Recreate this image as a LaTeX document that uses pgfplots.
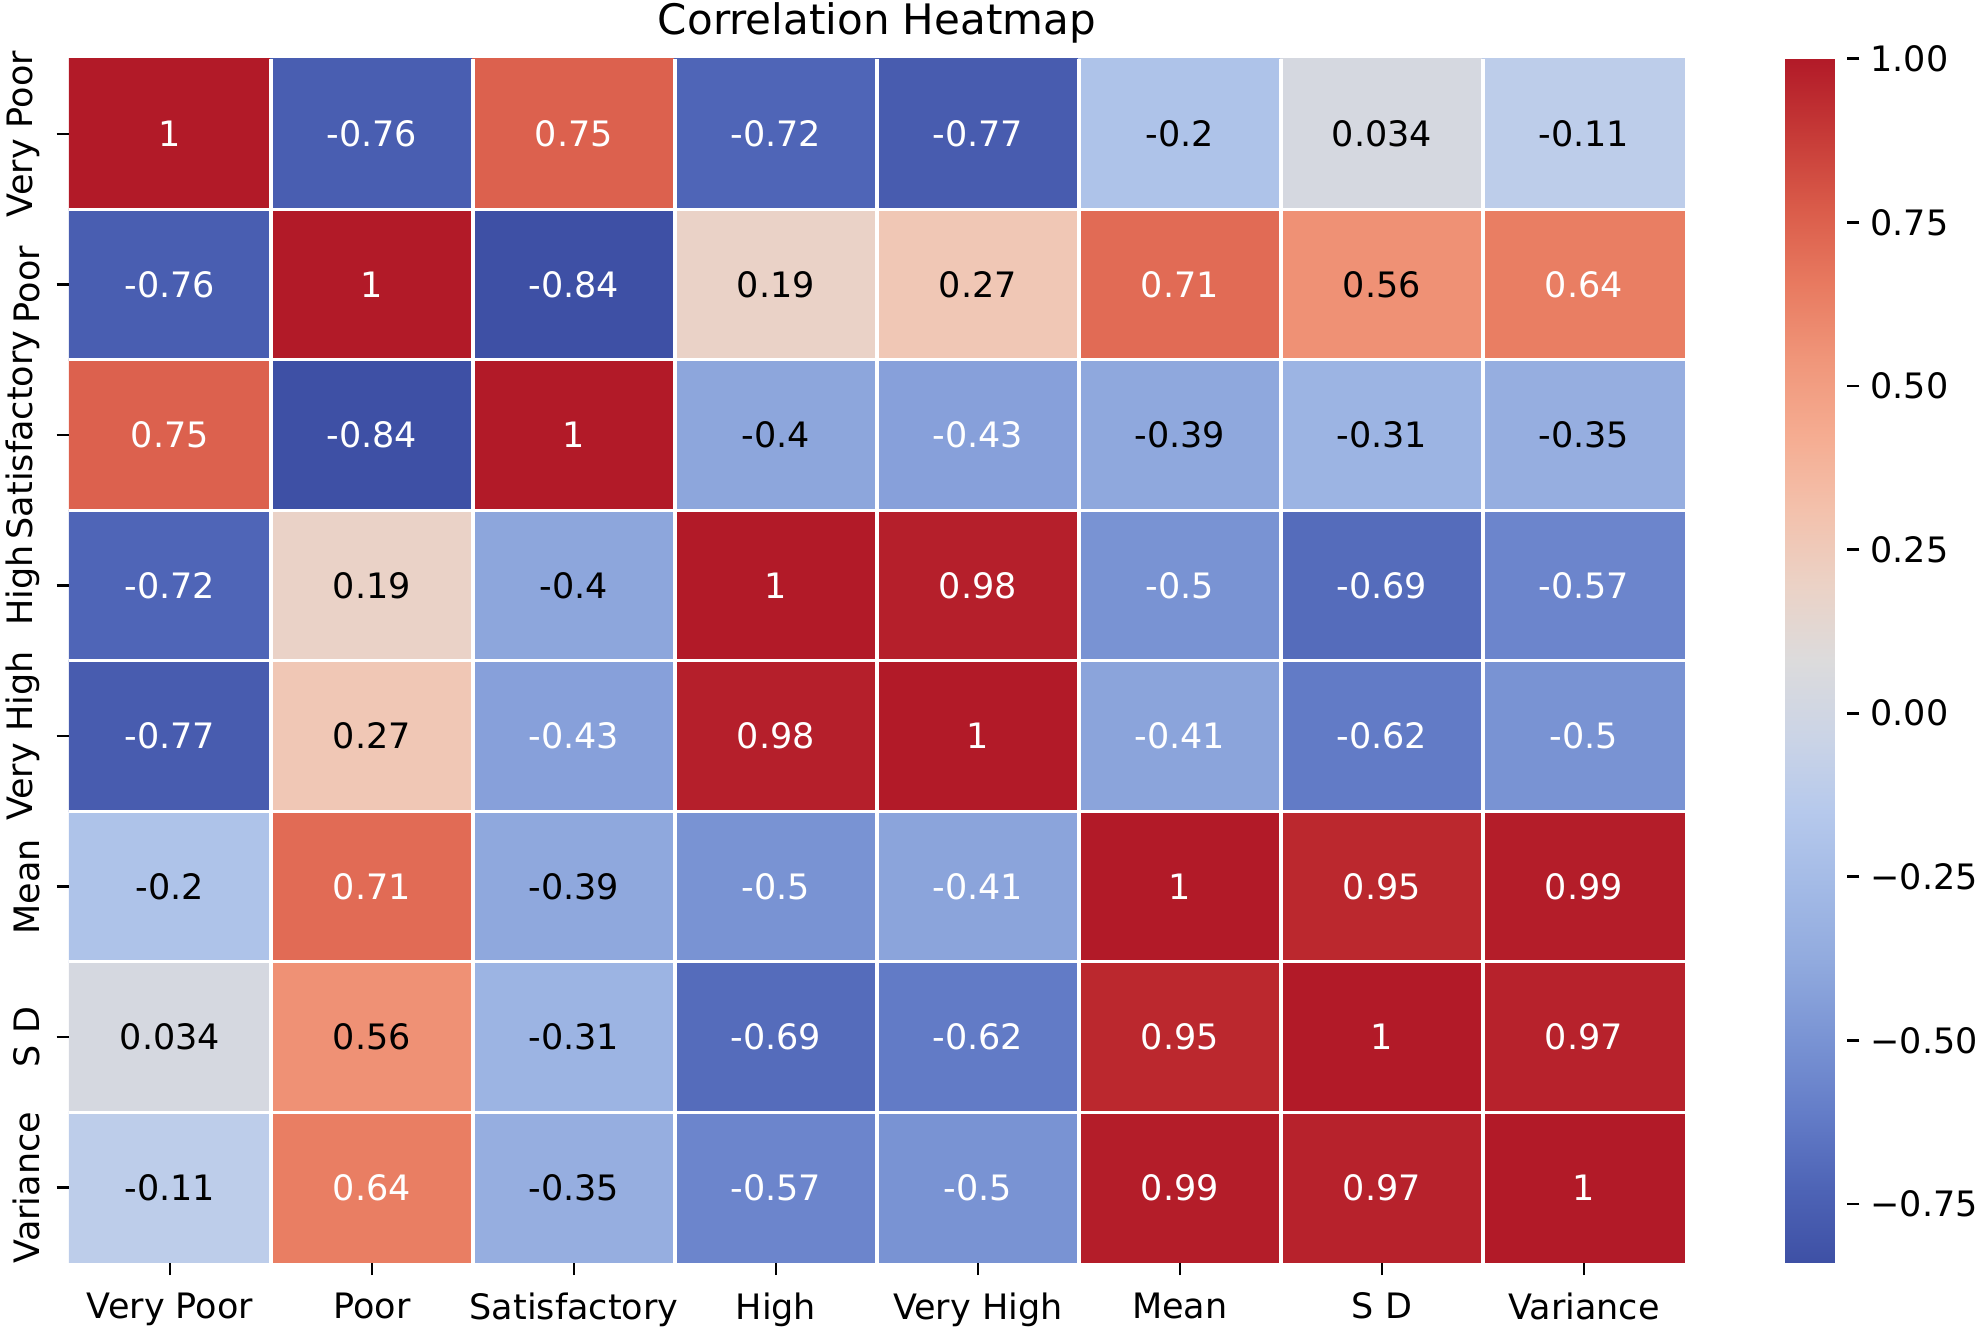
\documentclass[border=0pt]{standalone}
\usepackage{fontspec}
\setmainfont{DejaVu Sans}
\usepackage{pgfplots}
\usepackage{pgfplotstable}
\pgfplotsset{compat=1.18}

% correlation matrix, row index y (top = 0), column index x
\pgfplotstableread{
x y v
0 0 1
1 0 -0.76
2 0 0.75
3 0 -0.72
4 0 -0.77
5 0 -0.2
6 0 0.034
7 0 -0.11
0 1 -0.76
1 1 1
2 1 -0.84
3 1 0.19
4 1 0.27
5 1 0.71
6 1 0.56
7 1 0.64
0 2 0.75
1 2 -0.84
2 2 1
3 2 -0.4
4 2 -0.43
5 2 -0.39
6 2 -0.31
7 2 -0.35
0 3 -0.72
1 3 0.19
2 3 -0.4
3 3 1
4 3 0.98
5 3 -0.5
6 3 -0.69
7 3 -0.57
0 4 -0.77
1 4 0.27
2 4 -0.43
3 4 0.98
4 4 1
5 4 -0.41
6 4 -0.62
7 4 -0.5
0 5 -0.2
1 5 0.71
2 5 -0.39
3 5 -0.5
4 5 -0.41
5 5 1
6 5 0.95
7 5 0.99
0 6 0.034
1 6 0.56
2 6 -0.31
3 6 -0.69
4 6 -0.62
5 6 0.95
6 6 1
7 6 0.97
0 7 -0.11
1 7 0.64
2 7 -0.35
3 7 -0.57
4 7 -0.5
5 7 0.99
6 7 0.97
7 7 1
}\corr

% coolwarm, toned like the printed reference
\pgfplotsset{
  colormap={coolwarm}{
    rgb255=(62,80,165) rgb255=(78,100,182) rgb255=(100,125,200) rgb255=(122,148,212)
    rgb255=(145,170,222) rgb255=(163,186,230) rgb255=(182,201,236) rgb255=(203,212,230)
    rgb255=(220,219,220) rgb255=(235,210,198) rgb255=(243,193,172) rgb255=(245,172,145)
    rgb255=(240,150,122) rgb255=(232,122,96) rgb255=(218,92,74) rgb255=(198,58,55)
    rgb255=(178,26,40)
  },
}

\begin{document}
\begin{tikzpicture}
\useasboundingbox (0,0) rectangle (565.7pt,379.1pt);
\begin{axis}[
  at={(19.7pt,18.3pt)}, anchor=south west,
  width=461.7pt, height=344pt, scale only axis,
  colormap name=coolwarm,
  point meta min=-0.84, point meta max=1,
  xmin=-0.5, xmax=7.5, ymin=-0.5, ymax=7.5,
  y dir=reverse,
  enlargelimits=false,
  axis line style={draw=none},
  tick align=outside, tick pos=left,
  major tick length=3.5pt,
  major tick style={black, line width=0.8pt},
  minor tick length=0pt,
  xtick={0,...,7}, ytick={0,...,7},
  xticklabels={Very Poor,Poor,Satisfactory,High,Very High,Mean,S D,Variance},
  yticklabels={Very Poor,Poor,Satisfactory,High,Very High,Mean,S D,Variance},
  yticklabel style={rotate=90, anchor=south, inner sep=1pt, yshift=3.7pt},
  xticklabel style={inner sep=1pt, yshift=-3.8pt},
  minor xtick={0.5,1.5,...,6.5}, minor ytick={0.5,1.5,...,6.5},
  minor grid style={white, line width=0.9pt},
  xminorgrids, yminorgrids,
  axis on top,
  title={Correlation Heatmap},
  title style={font=\fontsize{12}{14.4}\selectfont, at={(0.5,1)}, anchor=base, yshift=0.9pt},
  colorbar,
  colorbar style={
    at={(parent axis.north east)}, anchor=north west, xshift=20.1pt,
    scale only axis,
    width=17.7pt, height=344pt,
    xmin=0, xmax=1, enlargelimits=false,
    axis line style={draw=none},
    ytick pos=right, yticklabel pos=right,
    ytick={-0.75,-0.5,-0.25,0,0.25,0.5,0.75,1},
    yticklabels={−0.75,−0.50,−0.25,0.00,0.25,0.50,0.75,1.00},
    tick align=outside,
    major tick length=3.5pt,
    major tick style={black, line width=0.8pt},
    yticklabel style={inner sep=1pt, xshift=2pt},
  },
]
\addplot[matrix plot*, mesh/cols=8, point meta=explicit] table[x=x, y=y, meta=v] {\corr};
% labels on dark cells
\addplot[only marks, mark size=0pt, point meta=explicit symbolic,
  nodes near coords, nodes near coords align=center,
  every node near coord/.append style={text=white, font=\fontsize{10}{12}\selectfont},
  restrict expr to domain={(\thisrow{v}<-0.405)||(\thisrow{v}>0.6)}{0.5:1.5}]
  table[x=x, y=y, meta=v] {\corr};
% labels on light cells
\addplot[only marks, mark size=0pt, point meta=explicit symbolic,
  nodes near coords, nodes near coords align=center,
  every node near coord/.append style={text=black, font=\fontsize{10}{12}\selectfont},
  restrict expr to domain={(\thisrow{v}>=-0.405)&&(\thisrow{v}<=0.6)}{0.5:1.5}]
  table[x=x, y=y, meta=v] {\corr};
\end{axis}
\end{tikzpicture}
\end{document}
